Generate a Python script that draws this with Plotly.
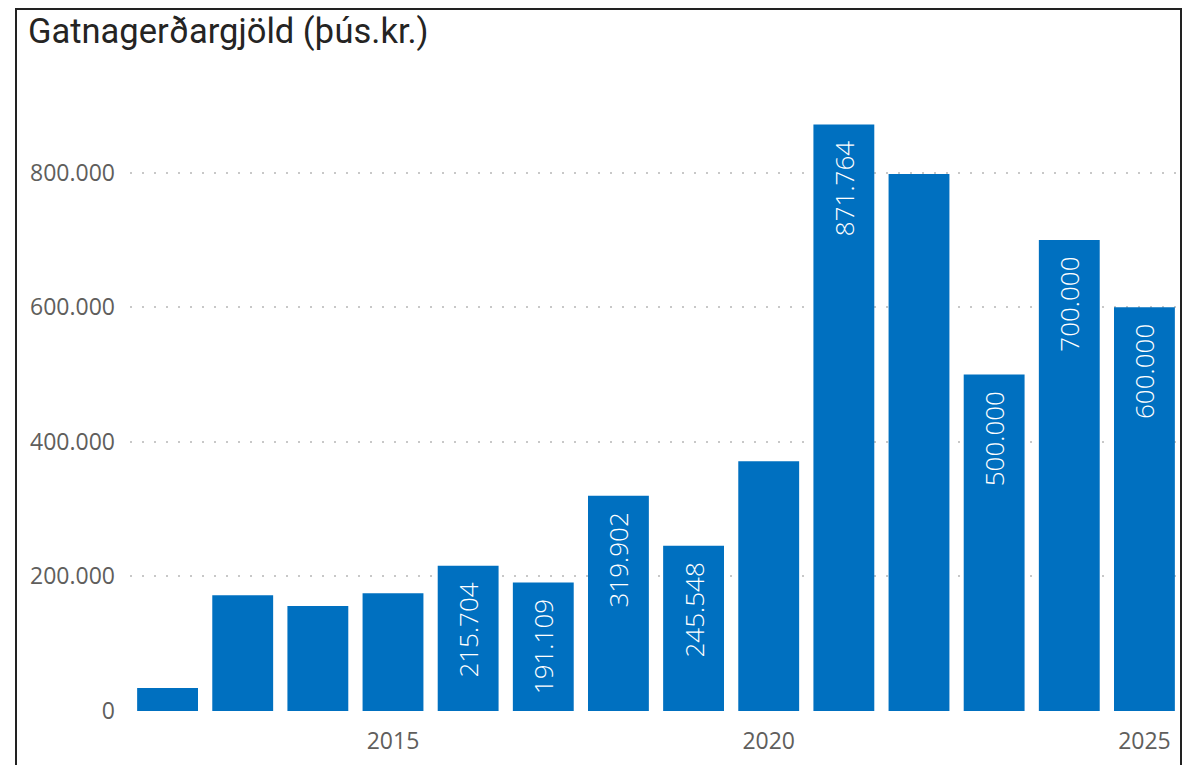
import plotly.graph_objects as go

years = [2012, 2013, 2014, 2015, 2016, 2017, 2018, 2019, 2020, 2021, 2022, 2023, 2024, 2025]
values = [34000, 172000, 156000, 175000, 215704, 191109, 319902, 245548, 371000, 871764, 798000, 500000, 700000, 600000]
labels = ["", "", "", "", "215.704", "191.109", "319.902", "245.548", "", "871.764", "", "500.000", "700.000", "600.000"]
x_ticks = [2015, 2020, 2025]
y_ticks = [0, 200000, 400000, 600000, 800000]
y_tick_text = ["0", "200.000", "400.000", "600.000", "800.000"]

# page body has an 8px margin: figure coordinates = screen - 8
OFF = 8
W, H = 1184, 757
L, R, T, B = 122, 10, 92, 54
pw, ph = W - L - R, H - T - B

def px(sx):
    return (sx - OFF - L) / pw

def py(sy):
    return (H - B - (sy - OFF)) / ph

fig = go.Figure()
fig.add_trace(go.Bar(
    x=years, y=values, text=[t + "\u00a0\u00a0" if t else "" for t in labels],
    marker=dict(color="#0070C0", line=dict(width=0)),
    textposition="inside", insidetextanchor="end", textangle=-90,
    textfont=dict(family="Open Sans", size=26, color="white", weight=300),
    cliponaxis=False, hoverinfo="skip",
))

fig.update_layout(
    width=W, height=H,
    margin=dict(l=L, r=R, t=T, b=B),
    paper_bgcolor="white", plot_bgcolor="white",
    bargap=0.19, showlegend=False,
    uniformtext=dict(mode=False),
    xaxis=dict(
        range=[2011.5, 2025.5], tickvals=x_ticks, ticktext=[str(v) for v in x_ticks],
        showgrid=False, zeroline=False, showline=False, ticks="", ticklabelstandoff=14,
        tickfont=dict(family="Open Sans", size=23, color="#605e5c"),
    ),
    yaxis=dict(
        range=[0, 908000], tickvals=y_ticks, ticktext=y_tick_text,
        showgrid=True, gridcolor="#c8c8c8", griddash="2px,10px", gridwidth=2,
        zeroline=False, showline=False, ticks="", ticklabelstandoff=14,
        tickfont=dict(family="Open Sans", size=23, color="#605e5c"),
    ),
    annotations=[dict(
        text="Gatnagerðargjöld (þús.kr.)", xref="paper", yref="paper",
        x=px(26), y=py(31), xanchor="left", yanchor="middle", showarrow=False,
        font=dict(family="Roboto", size=34.5, color="#252423"),
    )],
    shapes=[
        dict(type="line", xref="paper", yref="paper", x0=px(16), x1=px(16), y0=py(9), y1=py(800),
             line=dict(color="#222222", width=2)),
        dict(type="line", xref="paper", yref="paper", x0=px(15), x1=px(1182), y0=py(9), y1=py(9),
             line=dict(color="#222222", width=2)),
        dict(type="line", xref="paper", yref="paper", x0=px(1181), x1=px(1181), y0=py(9), y1=py(800),
             line=dict(color="#222222", width=2)),
    ],
)

fig.write_html("out.html")
